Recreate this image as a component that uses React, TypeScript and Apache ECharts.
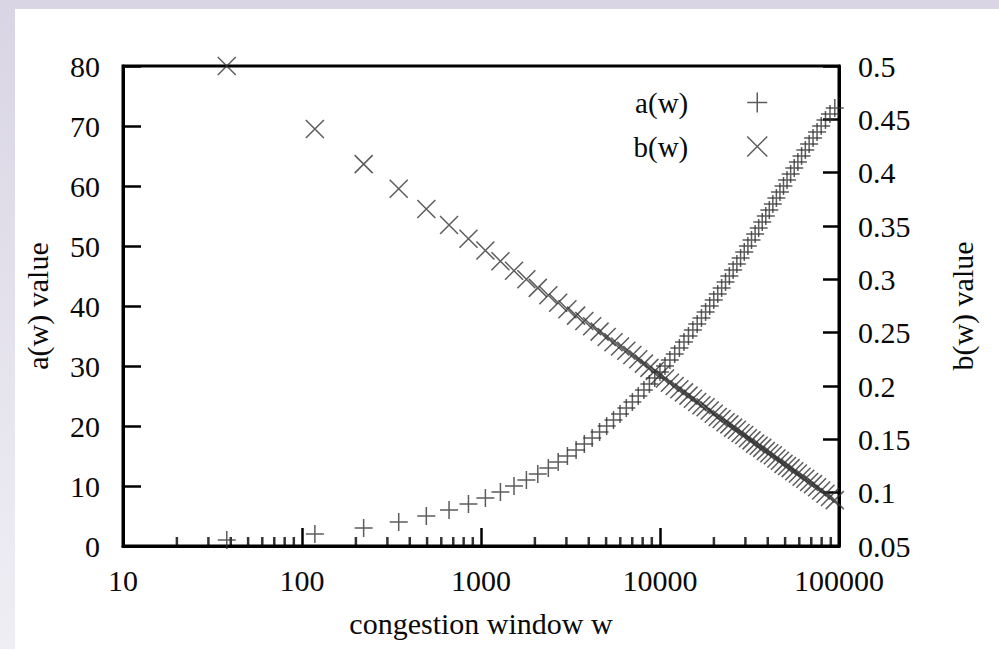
import React, { useEffect, useRef } from "react";
import * as echarts from "echarts";

// congestion window w (points of the HighSpeed TCP table)
const windowSizes = [
  38, 118, 221, 347, 495, 663, 851, 1058, 1284, 1529, 1793, 2076, 2378, 2699,
  3039, 3399, 3778, 4177, 4596, 5036, 5497, 5979, 6483, 7009, 7558, 8130, 8726,
  9346, 9991, 10661, 11358, 12082, 12834, 13614, 14424, 15265, 16137, 17042,
  17981, 18955, 19965, 21013, 22101, 23230, 24402, 25618, 26881, 28193, 29557,
  30975, 32450, 33986, 35586, 37253, 38992, 40808, 42707, 44694, 46776, 48961,
  51258, 53677, 56230, 58932, 61799, 64851, 68113, 71617, 75401, 79517, 84035,
  89053, 94717,
];

const aValues = [
  1, 2, 3, 4, 5, 6, 7, 8, 9, 10, 11, 12, 13, 14, 15, 16, 17, 18, 19, 20, 21, 22,
  23, 24, 25, 26, 27, 28, 29, 30, 31, 32, 33, 34, 35, 36, 37, 38, 39, 40, 41, 42,
  43, 44, 45, 46, 47, 48, 49, 50, 51, 52, 53, 54, 55, 56, 57, 58, 59, 60, 61, 62,
  63, 64, 65, 66, 67, 68, 69, 70, 71, 72, 73,
];

const bValues = [
  0.5, 0.441, 0.408, 0.385, 0.366, 0.351, 0.338, 0.327, 0.317, 0.308, 0.3,
  0.292, 0.285, 0.278, 0.272, 0.266, 0.261, 0.256, 0.251, 0.246, 0.241, 0.237,
  0.233, 0.229, 0.225, 0.221, 0.217, 0.214, 0.21, 0.207, 0.203, 0.2, 0.197,
  0.194, 0.191, 0.188, 0.185, 0.182, 0.18, 0.177, 0.174, 0.171, 0.169, 0.166,
  0.164, 0.161, 0.159, 0.156, 0.154, 0.151, 0.149, 0.146, 0.144, 0.142, 0.139,
  0.137, 0.135, 0.132, 0.13, 0.127, 0.125, 0.123, 0.12, 0.118, 0.115, 0.113,
  0.11, 0.108, 0.105, 0.102, 0.099, 0.096, 0.093,
];

const xMinorTicks = [
  20, 30, 40, 50, 60, 70, 80, 90, 200, 300, 400, 500, 600, 700, 800, 900, 2000,
  3000, 4000, 5000, 6000, 7000, 8000, 9000, 20000, 30000, 40000, 50000, 60000,
  70000, 80000, 90000,
];

const seriesNames = ["a(w)", "b(w)"];
const axisTitles = { x: "congestion window w", yLeft: "a(w) value", yRight: "b(w) value" };

const FONT = "'Liberation Serif', 'Times New Roman', serif";
const PLUS = "path://M0,10L20,10M10,0L10,20";
const CROSS = "path://M0,0L20,20M20,0L0,20";
const markStyle = { color: "rgba(0,0,0,0)", borderColor: "#333", borderWidth: 1.5 };

export default function App() {
  const ref = useRef<HTMLDivElement>(null);

  useEffect(() => {
    if (!ref.current) return;
    const chart = echarts.init(ref.current, null, { renderer: "svg" });
    const labelStyle = { fontFamily: FONT, fontSize: 30, color: "#0a0a0a" };
    chart.setOption({
      animation: false,
      grid: {
        left: 123,
        right: 160,
        top: 66,
        bottom: 103,
        show: true,
        borderColor: "#000",
        borderWidth: 3,
        backgroundColor: "transparent",
      },
      legend: {
        orient: "vertical",
        right: 226,
        top: 83,
        align: "right",
        itemWidth: 20,
        itemHeight: 20,
        itemGap: 15,
        selectedMode: false,
        textStyle: { ...labelStyle, fontSize: 29, padding: [0, 54, 0, 0] },
        data: [
          { name: seriesNames[0], icon: PLUS, itemStyle: markStyle },
          { name: seriesNames[1], icon: CROSS, itemStyle: markStyle },
        ],
      },
      xAxis: {
        type: "log",
        logBase: 10,
        min: 10,
        max: 100000,
        name: axisTitles.x,
        nameLocation: "middle",
        nameGap: 62,
        nameTextStyle: labelStyle,
        axisLine: { lineStyle: { color: "#000", width: 3 } },
        axisTick: { inside: true, length: 18, lineStyle: { color: "#000", width: 2.5 } },
        axisLabel: { ...labelStyle, margin: 19, formatter: (v: number) => String(Math.round(v)) },
        splitLine: { show: false },
      },
      yAxis: [
        {
          type: "value",
          min: 0,
          max: 80,
          interval: 10,
          position: "left",
          name: axisTitles.yLeft,
          nameLocation: "middle",
          nameGap: 71,
          nameTextStyle: labelStyle,
          axisLine: { show: true, lineStyle: { color: "#000", width: 3 } },
          axisTick: { show: true, inside: true, length: 18, lineStyle: { color: "#000", width: 2.5 } },
          axisLabel: { ...labelStyle, margin: 23 },
          splitLine: { show: false },
        },
        {
          type: "value",
          min: 0.05,
          max: 0.5,
          interval: 0.05,
          position: "right",
          name: axisTitles.yRight,
          nameLocation: "middle",
          nameGap: 108,
          nameTextStyle: labelStyle,
          axisLine: { show: true, lineStyle: { color: "#000", width: 3 } },
          axisTick: { show: true, inside: true, length: 16, lineStyle: { color: "#000", width: 2.5 } },
          axisLabel: {
            ...labelStyle,
            margin: 19,
            formatter: (v: number) => String(Math.round(v * 100) / 100),
          },
          splitLine: { show: false },
        },
      ],
      series: [
        {
          name: "minor",
          type: "scatter",
          xAxisIndex: 0,
          yAxisIndex: 0,
          silent: true,
          clip: false,
          symbol: "rect",
          symbolSize: [2.5, 9],
          symbolOffset: [0, -4.5],
          itemStyle: { color: "#000" },
          data: xMinorTicks.map((v) => [v, 0]),
          z: 1,
        },
        {
          name: seriesNames[0],
          type: "scatter",
          yAxisIndex: 0,
          clip: false,
          symbol: PLUS,
          symbolSize: 18,
          itemStyle: markStyle,
          data: windowSizes.map((w, i) => [w, aValues[i]]),
        },
        {
          name: seriesNames[1],
          type: "scatter",
          yAxisIndex: 1,
          clip: false,
          symbol: CROSS,
          symbolSize: 18,
          itemStyle: markStyle,
          data: windowSizes.map((w, i) => [w, bValues[i]]),
        },
      ],
    });
    return () => chart.dispose();
  }, []);

  return (
    <div
      style={{
        position: "fixed",
        left: 0,
        top: 0,
        width: 999,
        height: 649,
        background: "linear-gradient(to bottom, #d9d5e4, #efeef4)",
        overflow: "hidden",
      }}
    >
      <div
        style={{
          position: "absolute",
          left: 15,
          top: 9,
          right: 0,
          bottom: 0,
          background: "#fff",
        }}
      />
      <div ref={ref} style={{ position: "absolute", left: 0, top: 0, width: 999, height: 649 }} />
    </div>
  );
}
